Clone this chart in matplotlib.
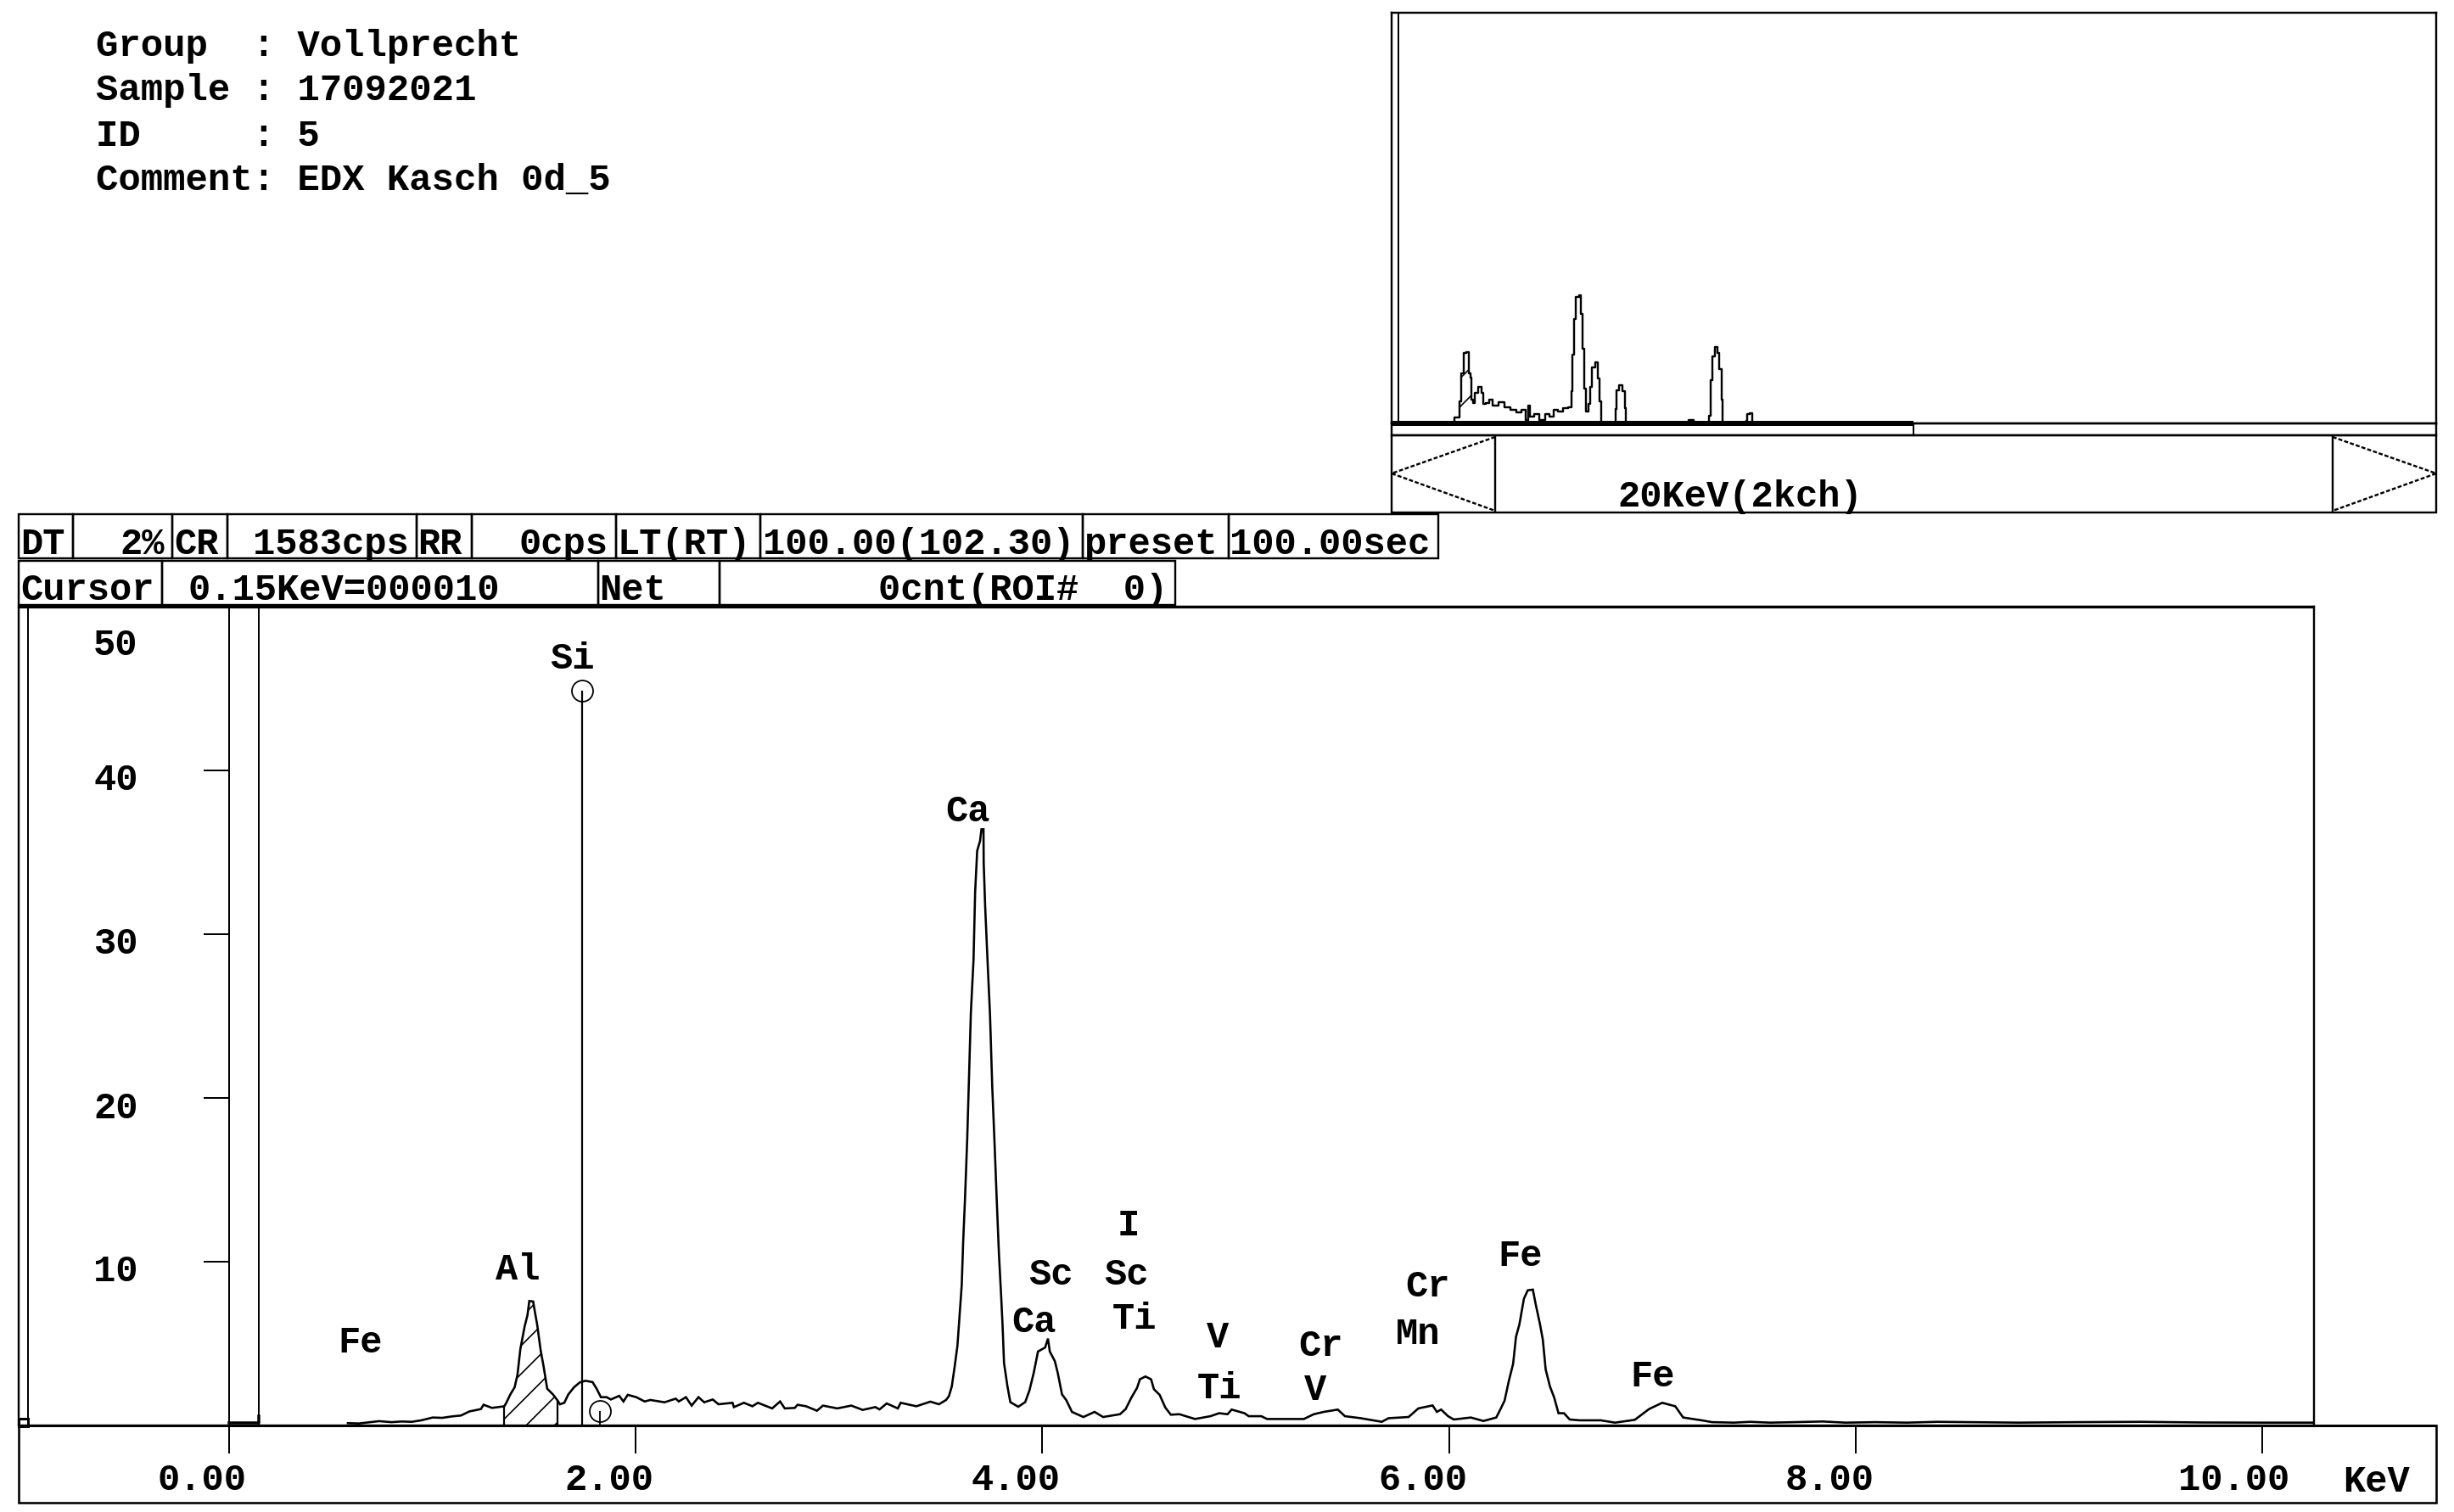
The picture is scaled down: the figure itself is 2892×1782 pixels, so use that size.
import numpy as np
import matplotlib
matplotlib.use("Agg")
import matplotlib.pyplot as plt
from matplotlib.patches import Rectangle

W, H = 2892, 1782
plt.rcParams['font.family'] = ['Liberation Mono', 'DejaVu Sans Mono']
plt.rcParams['font.weight'] = 'bold'
plt.rcParams['hatch.linewidth'] = 1.2
FS = 31.5

# ---------- data ----------
energy_kev = [0.586,0.64,0.739,0.80,0.850,0.90,0.947,1.003,1.05,1.100,1.142,1.184,1.240,1.253,1.295,1.355,1.365,1.385,1.406,1.420,1.434,1.455,1.469,1.478,1.497,1.503,1.517,1.534,1.548,1.566,1.594,1.615,1.629,1.650,1.670,1.698,1.726,1.754,1.789,1.809,1.830,1.858,1.879,1.920,1.941,1.962,2.004,2.045,2.073,2.143,2.198,
 2.213,2.248,2.276,2.310,2.338,2.380,2.408,2.477,2.484,2.533,2.575,2.602,2.672,2.711,2.734,2.783,2.797,2.839,2.892,2.922,2.992,3.061,3.117,3.179,3.200,3.235,3.290,3.304,3.381,3.450,3.492,3.527,
 3.541,3.555,3.569,3.583,3.593,3.604,3.611,3.620,3.631,3.641,3.649,3.662,3.670,3.680,3.694,3.701,3.711,3.712,3.719,3.732,3.743,3.754,3.765,3.776,3.787,3.798,3.805,3.812,3.829,3.843,3.882,3.916,3.937,3.958,3.979,4.014,4.028,4.037,4.062,4.076,4.097,4.118,
 4.146,4.202,4.257,4.299,4.382,4.410,4.438,4.466,4.480,4.507,4.535,4.549,4.577,4.605,4.632,4.674,4.751,4.827,4.869,4.911,4.931,4.994,5.015,5.077,5.105,5.286,5.335,5.384,5.453,5.488,5.565,5.627,5.669,5.703,5.801,5.849,5.919,5.940,5.961,5.995,6.023,6.107,6.169,6.232,6.253,6.273,6.294,6.315,6.329,6.346,6.368,6.387,6.412,6.426,6.447,6.461,6.475,6.496,6.517,6.538,6.565,6.593,6.642,6.746,6.816,6.913,
 6.983,7.048,7.112,7.151,7.242,7.293,7.40,7.48,7.578,7.70,7.836,7.95,8.095,8.25,8.40,8.560,8.80,9.09,9.40,9.70,10.0,10.215,10.25]
counts_read = [0.14,0.12,0.26,0.20,0.24,0.22,0.31,0.48,0.46,0.55,0.60,0.85,0.99,1.25,1.06,1.16,1.37,1.88,2.31,3.08,4.62,5.98,6.67,7.52,7.49,7.04,6.07,4.53,3.59,2.22,1.88,1.54,1.28,1.37,1.88,2.31,2.60,2.70,2.62,2.22,1.71,1.71,1.57,1.79,1.45,1.85,1.71,1.45,1.54,1.40,1.62,
 1.45,1.71,1.20,1.71,1.40,1.57,1.28,1.37,1.11,1.37,1.16,1.37,1.03,1.45,1.03,1.06,1.25,1.16,0.89,1.20,1.03,1.20,0.94,1.11,0.97,1.33,1.03,1.37,1.16,1.44,1.28,1.54,
 1.77,2.35,3.53,4.83,6.59,8.48,11.07,13.66,17.31,21.50,24.96,28.14,32.26,34.73,35.32,36.03,36.03,34.02,31.43,27.78,24.84,20.49,17.19,13.66,10.36,7.77,6.00,3.77,2.35,1.41,1.13,1.41,2.12,3.18,4.47,4.71,5.25,4.47,3.88,3.18,1.88,1.53,
 0.82,0.51,0.82,0.51,0.68,0.99,1.68,2.27,2.79,2.96,2.79,2.19,1.85,1.08,0.65,0.68,0.39,0.56,0.74,0.68,0.96,0.74,0.56,0.56,0.39,0.39,0.68,0.82,0.96,0.56,0.44,0.31,0.22,0.44,0.51,1.03,1.21,0.82,0.96,0.56,0.36,0.48,0.27,0.48,0.99,1.50,2.70,3.73,5.35,6.12,7.66,8.17,8.21,7.32,6.12,5.18,3.38,2.36,1.68,0.74,0.74,0.36,0.31,0.31,0.17,0.34,
 0.99,1.37,1.16,0.48,0.31,0.20,0.17,0.22,0.17,0.20,0.24,0.17,0.20,0.17,0.22,0.20,0.17,0.20,0.22,0.18,0.17,0.17,0.17]
counts = [v*1.0104 for v in counts_read]   # readings taken at 19.5 px/count, axis calibrated at 19.3

cursor_kev = [0.0, 0.15, 0.15]
cursor_counts = [0.15, 0.15, 0.55]

roi_start_kev, roi_end_kev = 1.355, 1.618
si_line_kev, si_line_top = 1.738, 44.85
si_esc_kev, si_esc_top = 1.826, 0.88
cursor_line_kev = 0.15

x_ticks = [0, 2, 4, 6, 8, 10]
y_ticks = [10, 20, 30, 40]

inset_kev = [1.222,1.233,1.333,1.350,1.389,1.434,1.511,1.528,1.567,1.578,1.611,1.667,1.734,1.789,1.811,1.889,1.944,2.028,2.167,2.278,2.389,2.5,2.6,2.657,2.696,2.751,2.835,2.974,3.057,3.14,3.213,3.307,3.435,3.513,3.546,3.568,3.596,3.641,3.713,3.735,3.769,3.808,3.836,3.891,3.919,3.963,4.035,4.058,4.113,4.125,4.391,4.402,4.436,4.491,4.57,4.592,4.603,5.826,5.837,5.921,5.932,6.215,6.237,6.282,6.326,6.365,6.421,6.46,6.493,6.515,6.949,6.977,7.005,7.071,7.082]
inset_level = [0,7,7,26,59,83,84,59,54,28,24,36,43,36,23,24,28,21,25,19,16,13,16,4,21,8,11,4,11,8,16,14,18,19,38,81,123,149,151,129,88,41,14,23,43,66,72,53,26,0,0,17,39,45,38,18,0,0,4,4,0,0,9,51,79,90,83,64,28,0,0,3,11,12,0]

header_lines = ["Group  : Vollprecht", "Sample : 17092021", "ID     : 5", "Comment: EDX Kasch 0d_5"]
status_row1 = ["DT", "2%", "CR", "1583cps", "RR", "0cps", "LT(RT)", "100.00(102.30)", "preset", "100.00sec"]
status_row2 = ["Cursor", "0.15KeV=000010", "Net", "0cnt(ROI#  0)"]
peak_labels = ["Si","Al","Fe","Ca","Sc","Ca","I","Sc","Ti","V","Ti","Cr","V","Cr","Mn","Fe","Fe"]

# ---------- layout, pixels of the 2892x1782 canvas ----------
fig = plt.figure(figsize=(W/100, H/100), dpi=100, facecolor='white')
px = 0.72   # points per canvas pixel
LW = 2.4*px

def axes_at(x0, y0, x1, y1, **kw):
    return fig.add_axes([x0/W, 1-y1/H, (x1-x0)/W, (y1-y0)/H], **kw)

# ---------- main spectrum ----------
PLOT_L, PLOT_R, PLOT_T, PLOT_B = 22, 2727, 715, 1680
X0, XS, YS = 269.5, 239.7, 19.3
ax = axes_at(PLOT_L, PLOT_T, PLOT_R, PLOT_B)
ax.set_xlim((PLOT_L-X0)/XS, (PLOT_R-X0)/XS)
ax.set_ylim(0, (PLOT_B-PLOT_T)/YS)
for s in ax.spines.values():
    s.set_linewidth(LW)
ax.spines['left'].set_position(('data', 0))
ax.spines['left'].set_linewidth(2*px)
ax.set_xticks(x_ticks)
ax.set_yticks(y_ticks)
ax.tick_params(axis='x', length=33*px, width=2*px, labelbottom=False)
ax.tick_params(axis='y', length=30*px, width=2*px, labelleft=False)

e = np.array(energy_kev); c = np.array(counts)
ax.plot(e, c, color='black', lw=2.6*px, solid_joinstyle='miter')
ax.plot(cursor_kev, cursor_counts, color='black', lw=3.5*px)

mask = (e >= roi_start_kev) & (e <= roi_end_kev)
ax.fill_between(e[mask], 0, c[mask], facecolor='none', edgecolor='black', hatch='/', linewidth=0)
ax.vlines([e[mask][0], roi_end_kev], 0, [c[mask][0], c[mask][-1]], color='black', lw=2.2*px)

ax.axvline(cursor_line_kev, color='black', lw=2*px)
ax.vlines(si_line_kev, 0, si_line_top, color='black', lw=2.2*px)
ax.vlines(si_esc_kev, 0, si_esc_top, color='black', lw=1.8*px)
ax.plot([si_line_kev, si_esc_kev], [si_line_top, si_esc_top], ls='none', marker='o', ms=25*px,
        mfc='none', mec='black', mew=1.8*px)

for t in x_ticks:
    lab = f"{t:.2f}"
    ax.annotate(lab, xy=(t, 0), xycoords=('data', 'axes fraction'),
                xytext=((-31-3*(len(lab)-4))*px, -65*px), textcoords='offset points',
                ha='center', va='center', fontsize=FS, annotation_clip=False)
for t in y_ticks:
    ax.annotate(f"{t}", xy=(0, t), xycoords='data', xytext=(-133*px, -12*px),
                textcoords='offset points', ha='center', va='center', fontsize=FS)

# ---------- overview inset ----------
IN_L, IN_R, IN_T, IN_B = 1640, 2871, 15, 499
axi = axes_at(IN_L, IN_T, IN_R, IN_B)
axi.set_xlim(0, (IN_R-IN_L)/60.0)
axi.set_ylim(0, IN_B-IN_T)
axi.set_xticks([]); axi.set_yticks([])
for s in axi.spines.values():
    s.set_linewidth(LW)
ie = np.array(inset_kev); il = np.array(inset_level)
axi.plot(ie, il, color='black', lw=2.4*px, drawstyle='steps-mid')
imask = (ie >= 1.35) & (ie <= 1.578)
axi.fill_between(ie[imask], 0, il[imask], facecolor='none', edgecolor='black', hatch='/', linewidth=0)

# ---------- interface chrome ----------
ov = fig.add_axes([0, 0, 1, 1], zorder=10)
ov.set_xlim(0, W); ov.set_ylim(H, 0); ov.axis('off'); ov.patch.set_alpha(0)

def box(x0, y0, x1, y1, lw=LW):
    ov.add_patch(Rectangle((x0, y0), x1-x0, y1-y0, fill=False, ec='black', lw=lw))
def line(xs, ys, lw=LW, **kw):
    ov.plot(xs, ys, color='black', lw=lw, solid_capstyle='butt', **kw)

for s, yb in zip(header_lines, [66, 118, 172, 224]):
    ov.text(113, yb, s, fontsize=31.7, ha='left', va='baseline')

# status rows
r1_edges = [22, 86, 203, 268, 491, 556, 726, 896, 1276, 1448, 1695]
for a, b in zip(r1_edges[:-1], r1_edges[1:]):
    box(a, 606, b, 658)
r2_edges = [22, 191, 705, 848, 1385]
for a, b in zip(r2_edges[:-1], r2_edges[1:]):
    box(a, 661, b, 713)
r1_x = [24, 141, 205, 298, 492, 612, 728, 899, 1278, 1449]
for s, x in zip(status_row1, r1_x):
    ov.text(x, 653, s, fontsize=FS, ha='left', va='baseline')
r2_x = [24, 222, 706, 1035]
for s, x in zip(status_row2, r2_x):
    ov.text(x, 707, s, fontsize=FS, ha='left', va='baseline')

# main chrome
line([22, 2727], [715, 715], lw=3.2*px)
line([22, 22], [715, 1680], lw=2.4*px)
line([33, 33], [715, 1680], lw=2*px)
ov.add_patch(Rectangle((22, 1672), 11, 9, fill=False, ec='black', lw=3*px))
box(22, 1680, 2871, 1771, lw=2.6*px)
line([22, 2871], [1680, 1680], lw=3*px)
ov.text(2801, 1746, "KeV", fontsize=FS, ha='center', va='center')
ov.text(136, 761, "50", fontsize=FS, ha='center', va='center')

label_xy = [(674,777),(610,1496),(425,1582),(1140,957),(1238,1502),(1218,1559),(1330,1445),(1327,1502),
            (1337,1555),(1435,1576),(1437,1636),(1556,1586),(1550,1639),(1682,1517),(1671,1572),(1792,1481),(1948,1622)]
for s, (x, y) in zip(peak_labels, label_xy):
    ov.text(x, y, s, fontsize=FS, ha='center', va='center')

# inset chrome
line([1648, 1648], [15, 499], lw=2*px)
line([1640, 2255], [499, 499], lw=6*px)
box(1640, 499, 2871, 513)
line([2255, 2255], [499, 513], lw=2*px)
box(1640, 513, 2871, 604)
line([1762, 1762], [513, 604], lw=2.4*px)
line([2749, 2749], [513, 604], lw=2.4*px)
for xs in ([1762, 1640, 1762], [2749, 2871, 2749]):
    ov.plot(xs, [515, 558, 602], color='black', lw=2.4*px, ls=(0, (2, 1)))
ov.text(1906, 597, "20KeV(2kch)", fontsize=FS, ha='left', va='baseline')

fig.savefig("out.png", dpi=100, facecolor='white')
